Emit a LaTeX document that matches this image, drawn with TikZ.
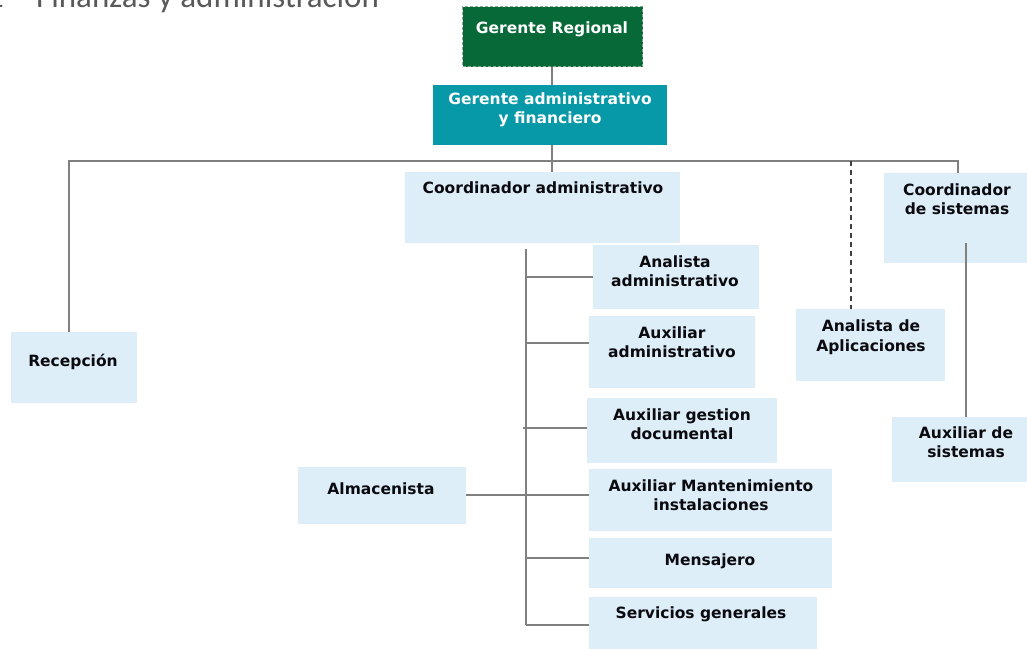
\documentclass[tikz,border=0pt]{standalone}
\usepackage{fontspec}
\setmainfont{DejaVu Sans}
\newfontfamily\titlefont{Carlito}
\definecolor{boxblue}{RGB}{222,238,249}
\definecolor{grgreen}{RGB}{7,105,56}
\definecolor{grborder}{RGB}{135,170,145}
\definecolor{teal}{RGB}{8,153,168}
\definecolor{linegrey}{RGB}{128,128,128}
\definecolor{titlegrey}{RGB}{89,89,89}
\definecolor{txtdark}{RGB}{10,10,15}
\begin{document}
\begin{tikzpicture}[x=1pt,y=-1pt,
  box/.style={fill=boxblue, draw=none, inner sep=0pt, anchor=north west},
  lbl/.style={inner sep=0pt, align=center, text=txtdark,
    font=\fontsize{15.5}{19.5}\selectfont\bfseries},
  wlbl/.style={lbl, text=white},
  conn/.style={draw=linegrey, line width=1.5pt},
  dconn/.style={draw=black!75, line width=1.5pt, dash pattern=on 5pt off 4pt}]
\useasboundingbox (0,0) rectangle (1027,648);
\clip (0,0) rectangle (1027,648);

% title (partly clipped, as in the reference)
\node[anchor=base west, inner sep=0pt, text=titlegrey, font=\titlefont\fontsize{33}{36}\selectfont] (title) at (36,7) {Finanzas y administración};
\node[anchor=base east, inner sep=0pt, text=titlegrey, font=\titlefont\fontsize{33}{36}\selectfont] (num) at (4,7) {1};

% boxes
\node[box, fill=grgreen, draw=grborder, line width=1.2pt, dash pattern=on 3pt off 2pt, minimum width=180pt, minimum height=60pt] (gr) at (462,6) {};
\node[box, fill=teal, minimum width=234pt, minimum height=60pt] (gaf) at (433,85) {};
\node[box, minimum width=275pt, minimum height=71pt] (ca) at (405,172) {};
\node[box, minimum width=126pt, minimum height=71pt] (rec) at (11,332) {};
\node[box, minimum width=149pt, minimum height=72pt] (apl) at (796,309) {};
\node[box, minimum width=150pt, minimum height=90pt] (cs) at (884,173) {};
\node[box, minimum width=140pt, minimum height=65pt] (axs) at (892,417) {};
\node[box, minimum width=166pt, minimum height=64pt] (ana) at (593,245) {};
\node[box, minimum width=166pt, minimum height=72pt] (axa) at (589,316) {};
\node[box, minimum width=190pt, minimum height=65pt] (agd) at (587,398) {};
\node[box, minimum width=243pt, minimum height=62pt] (ami) at (589,469) {};
\node[box, minimum width=243pt, minimum height=50pt] (men) at (589,538) {};
\node[box, minimum width=228pt, minimum height=60pt] (sg) at (589,597) {};
\node[box, minimum width=168pt, minimum height=57pt] (alm) at (298,467) {};

% labels
\node[wlbl] (t-gr) at (552,29) {Gerente Regional};
\node[wlbl] (t-gaf) at (550,110) {Gerente administrativo\\y financiero};
\node[lbl] (t-ca) at (543,188) {Coordinador administrativo};
\node[lbl] (t-rec) at (73,362) {Recepción};
\node[lbl] (t-apl) at (871,337) {Analista de\\Aplicaciones};
\node[lbl] (t-cs) at (957,199) {Coordinador\\de sistemas};
\node[lbl] (t-axs) at (966,442) {Auxiliar de\\sistemas};
\node[lbl] (t-ana) at (675,271) {Analista\\administrativo};
\node[lbl] (t-axa) at (672,342) {Auxiliar\\administrativo};
\node[lbl] (t-agd) at (682,424) {Auxiliar gestion\\documental};
\node[lbl] (t-ami) at (711,495) {Auxiliar Mantenimiento\\instalaciones};
\node[lbl] (t-men) at (710,561) {Mensajero};
\node[lbl] (t-sg) at (701,614) {Servicios generales};
\node[lbl] (t-alm) at (381,489) {Almacenista};

% connector coordinates
\coordinate (barL) at (69,161);
\coordinate (barR) at (958,161);
\coordinate (dash) at (851,161);
\coordinate (spTop) at (526,249);
\coordinate (spBot) at (526,625);
\coordinate (csOut) at (966,243);

% connectors
\draw[conn] (gr.south -| 552,0) -- (gaf.north -| 552,0);
\draw[conn] (gaf.south -| 552,0) -- (ca.north -| 552,0);
\draw[conn] (rec.north -| barL) -- (barL) -- (barR) -- (barR |- cs.north);
\draw[dconn] (dash) -- (dash |- apl.north);
\draw[conn] (csOut) -- (csOut |- axs.north);
\draw[conn] (spTop) -- (spBot);
\draw[conn] (spTop |- 0,277) -- (ana.west |- 0,277);
\draw[conn] (spTop |- 0,343) -- (axa.west |- 0,343);
\draw[conn] (523,428) -- (agd.west |- 0,428);
\draw[conn] (alm.east |- 0,495) -- (ami.west |- 0,495);
\draw[conn] (spTop |- 0,558) -- (men.west |- 0,558);
\draw[conn] (spBot) -- (sg.west |- spBot);
\end{tikzpicture}
\end{document}
